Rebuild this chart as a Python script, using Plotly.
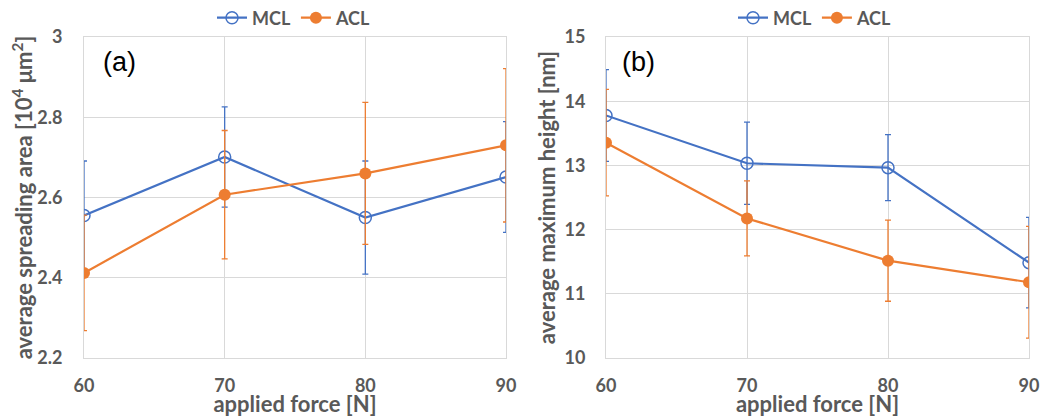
import plotly.graph_objects as go

force = [60, 70, 80, 90]

# Panel (a): average spreading area [10^4 um^2]
area_mcl = [2.555, 2.701, 2.550, 2.651]
area_mcl_err = [0.136, 0.125, 0.141, 0.138]
area_acl = [2.412, 2.607, 2.660, 2.730]
area_acl_err = [0.144, 0.160, 0.177, 0.191]

# Panel (b): average maximum height [nm]
height_mcl = [13.778, 13.033, 12.965, 11.485]
height_mcl_err = [0.714, 0.640, 0.513, 0.704]
height_acl = [13.354, 12.174, 11.516, 11.180]
height_acl_err = [0.830, 0.584, 0.632, 0.870]

area_ticks = [2.2, 2.4, 2.6, 2.8, 3.0]
area_ticktext = ["2.2", "2.4", "2.6", "2.8", "3"]
height_ticks = [10, 11, 12, 13, 14, 15]

BLUE = "#4472C4"
ORANGE = "#ED7D31"
GREY_TXT = "#595959"
GRID = "#D9D9D9"
FONT = "Lato"

fig = go.Figure()

def add_pair(xa, ya, mcl, mcl_err, acl, acl_err, legend):
    fig.add_trace(go.Scatter(
        x=force, y=mcl, name="<b>MCL</b>", mode="lines+markers",
        xaxis=xa, yaxis=ya, legend=legend,
        line=dict(color=BLUE, width=2.2),
        marker=dict(symbol="circle-open", size=12, color=BLUE, line=dict(width=1.5)),
        error_y=dict(type="data", array=mcl_err, visible=True, color=BLUE, thickness=1.3, width=3),
    ))
    fig.add_trace(go.Scatter(
        x=force, y=acl, name="<b>ACL</b>", mode="lines+markers",
        xaxis=xa, yaxis=ya, legend=legend,
        line=dict(color=ORANGE, width=2.2),
        marker=dict(symbol="circle", size=12, color=ORANGE),
        error_y=dict(type="data", array=acl_err, visible=True, color=ORANGE, thickness=1.3, width=3),
    ))

add_pair("x", "y", area_mcl, area_mcl_err, area_acl, area_acl_err, "legend")
add_pair("x2", "y2", height_mcl, height_mcl_err, height_acl, height_acl_err, "legend2")

# The page body has an 8px margin; lay out in window pixels minus that offset.
OFF = 8
W, H = 1052 - OFF, 417 - OFF
T, B = 37 - OFF, 59


def px_x(x):
    return (x - OFF) / W


axis_common = dict(
    showgrid=True, gridcolor=GRID, gridwidth=1,
    showline=True, linecolor=GRID, linewidth=1, mirror=True,
    zeroline=False, ticks="",
    tickfont=dict(family=FONT, size=18, color=GREY_TXT),
    automargin=False,
)
ytitle_font = dict(family=FONT, size=22, color=GREY_TXT)
xtitle_font = dict(family=FONT, size=22, color=GREY_TXT)
xt = dict(text="<b>applied force [N]</b>", font=xtitle_font, standoff=2)
xticktext = [f"<b>{v}</b>" for v in force]

leg_common = dict(orientation="h", yref="container", y=1 - (18 - OFF) / H, xanchor="center", yanchor="middle",
                  font=dict(family=FONT, size=18, color=GREY_TXT),
                  bgcolor="rgba(0,0,0,0)", tracegroupgap=0)

fig.update_layout(
    width=W, height=H,
    margin=dict(l=0, r=0, t=T, b=B),
    paper_bgcolor="white", plot_bgcolor="white",
    xaxis=dict(domain=[px_x(84), px_x(506)], range=[60, 90], tickvals=force, ticktext=xticktext, anchor="y",
               ticklabelstandoff=11, title=xt, **axis_common),
    yaxis=dict(domain=[0, 1], range=[2.2, 3.0], tickvals=area_ticks,
               ticktext=[f"<b>{t}</b>" for t in area_ticktext], anchor="x",
               ticklabelstandoff=17,
               title=dict(text="<b>average spreading area [10<sup>4</sup> μm<sup>2</sup>]</b>",
                          font=ytitle_font, standoff=3),
               **axis_common),
    xaxis2=dict(domain=[px_x(606), px_x(1029)], range=[60, 90], tickvals=force, ticktext=xticktext, anchor="y2",
                ticklabelstandoff=11, title=xt, **axis_common),
    yaxis2=dict(domain=[0, 1], range=[10, 15], tickvals=height_ticks,
                ticktext=[f"<b>{t}</b>" for t in height_ticks], anchor="x2",
                ticklabelstandoff=16,
                title=dict(text="<b>average maximum height [nm]</b>", font=ytitle_font, standoff=2),
                **axis_common),
    legend=dict(x=px_x(294), **leg_common),
    legend2=dict(x=px_x(815), **leg_common),
)

plot_h = H - T - B
for txt, px, py in [("(a)", 101, 62), ("(b)", 620, 62)]:
    fig.add_annotation(text=txt, x=px_x(px), y=1 - (py - 37) / plot_h, xref="paper", yref="paper",
                       showarrow=False, xanchor="left", yanchor="middle",
                       font=dict(family="Liberation Sans", size=27, color="black"))

fig.write_html("out.html")
